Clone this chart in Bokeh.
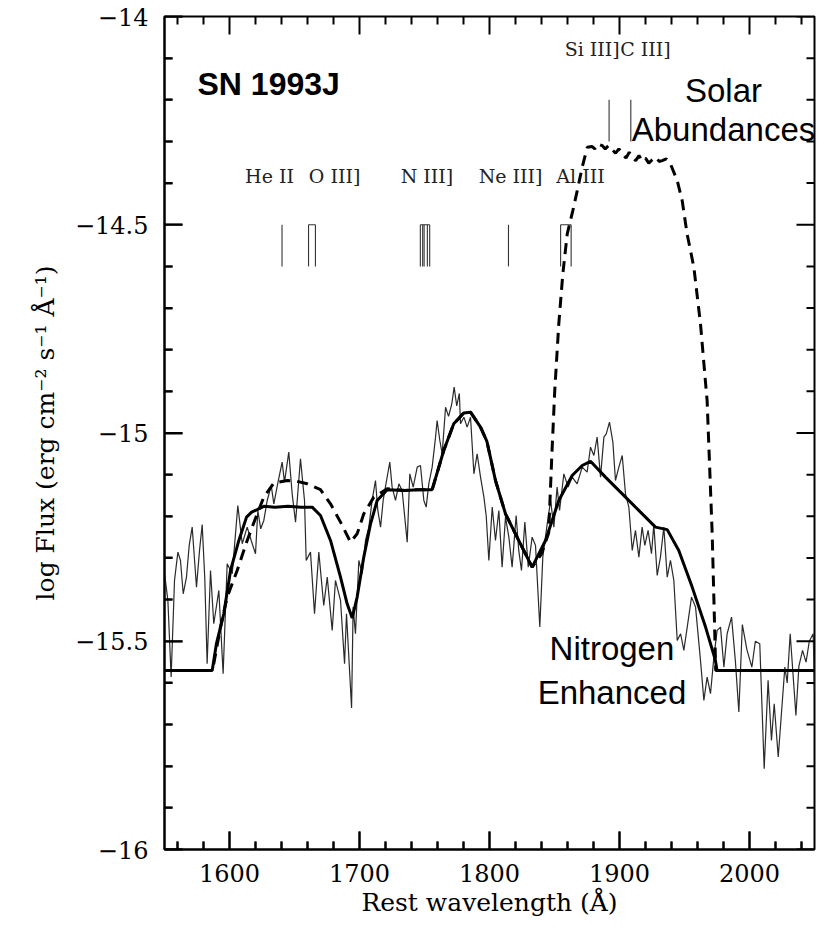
from bokeh.plotting import figure
from bokeh.models import Label, FixedTicker, Range1d
from bokeh.embed import file_html
from bokeh.resources import INLINE

# ---------------- data ----------------
obs_wave = [1550.0, 1552.6, 1555.1, 1557.7, 1560.3, 1562.3, 1564.4, 1566.9, 1569.0, 1571.3,
            1573.0, 1574.6, 1577.0, 1579.0, 1581.0, 1582.8, 1585.4, 1587.9, 1591.8, 1595.1,
            1598.2, 1602.1, 1606.4, 1609.8, 1613.6, 1616.7, 1620.0, 1621.8, 1624.0, 1626.4,
            1629.0, 1632.1, 1634.1, 1637.2, 1640.5, 1642.3, 1645.6, 1648.2, 1650.8, 1654.6,
            1657.7, 1659.0, 1662.3, 1665.4, 1668.7, 1672.5, 1675.2, 1679.0, 1681.5, 1685.4,
            1688.5, 1690.0, 1693.9, 1695.1, 1696.9, 1699.5, 1702.1, 1704.6, 1707.2, 1709.7,
            1712.3, 1714.1, 1716.2, 1718.2, 1720.8, 1723.3, 1725.1, 1727.7, 1730.3, 1732.8,
            1736.7, 1738.7, 1741.3, 1744.4, 1746.9, 1749.5, 1751.3, 1753.3, 1755.9, 1758.5,
            1759.7, 1761.8, 1763.6, 1766.2, 1768.5, 1771.0, 1772.8, 1774.8, 1776.8, 1777.7,
            1780.3, 1782.8, 1785.4, 1788.0, 1790.5, 1793.1, 1795.7, 1797.5, 1799.5, 1802.1,
            1804.6, 1807.2, 1809.7, 1812.3, 1814.9, 1817.4, 1820.5, 1822.5, 1824.6, 1827.2,
            1829.8, 1832.8, 1835.4, 1838.7, 1841.0, 1844.4, 1847.0, 1849.5, 1852.0, 1853.9,
            1857.2, 1860.5, 1863.6, 1867.4, 1871.3, 1875.1, 1877.7, 1880.3, 1882.8, 1885.4,
            1888.0, 1889.8, 1892.3, 1894.9, 1896.9, 1899.5, 1902.1, 1904.6, 1907.2, 1909.8,
            1912.3, 1914.9, 1917.4, 1919.5, 1922.0, 1924.6, 1926.4, 1929.0, 1931.5, 1934.1,
            1936.7, 1939.2, 1941.8, 1944.4, 1947.0, 1949.5, 1952.1, 1955.4, 1958.5, 1962.3,
            1964.9, 1967.4, 1970.0, 1972.6, 1975.1, 1977.7, 1980.3, 1982.8, 1986.2, 1989.2,
            1991.8, 1994.5, 1998.0, 2001.8, 2004.5, 2007.9, 2011.3, 2014.3, 2016.9, 2019.0,
            2022.1, 2027.2, 2029.0, 2031.3, 2035.7, 2038.0, 2040.8, 2043.5, 2046.0, 2049.0,
            2050.0]
obs_flux = [-15.337, -15.402, -15.586, -15.354, -15.286, -15.306, -15.386, -15.346, -15.270, -15.226,
            -15.300, -15.370, -15.280, -15.220, -15.350, -15.554, -15.330, -15.458, -15.378, -15.578,
            -15.314, -15.338, -15.174, -15.266, -15.226, -15.258, -15.290, -15.186, -15.230, -15.210,
            -15.162, -15.126, -15.170, -15.120, -15.070, -15.118, -15.046, -15.146, -15.214, -15.062,
            -15.162, -15.306, -15.286, -15.434, -15.286, -15.414, -15.346, -15.474, -15.354, -15.402,
            -15.554, -15.434, -15.660, -15.418, -15.482, -15.306, -15.338, -15.258, -15.226, -15.162,
            -15.114, -15.186, -15.226, -15.162, -15.114, -15.070, -15.130, -15.162, -15.122, -15.138,
            -15.262, -15.098, -15.130, -15.082, -15.078, -15.162, -15.178, -15.122, -15.082, -15.010,
            -14.970, -15.018, -15.050, -14.938, -14.960, -14.930, -14.890, -14.935, -14.905, -14.978,
            -14.962, -14.986, -14.962, -15.098, -15.050, -15.106, -15.154, -15.200, -15.306, -15.178,
            -15.258, -15.186, -15.322, -15.202, -15.250, -15.322, -15.198, -15.282, -15.330, -15.214,
            -15.322, -15.250, -15.270, -15.466, -15.298, -15.218, -15.162, -15.226, -15.130, -15.186,
            -15.098, -15.130, -15.106, -15.122, -15.082, -15.094, -15.034, -15.054, -15.010, -15.106,
            -15.010, -15.002, -14.974, -15.022, -15.114, -15.082, -15.054, -15.146, -15.178, -15.282,
            -15.234, -15.298, -15.226, -15.270, -15.234, -15.290, -15.220, -15.342, -15.298, -15.226,
            -15.346, -15.306, -15.354, -15.498, -15.482, -15.522, -15.466, -15.394, -15.418, -15.546,
            -15.642, -15.586, -15.626, -15.538, -15.474, -15.466, -15.562, -15.482, -15.442, -15.550,
            -15.670, -15.460, -15.520, -15.562, -15.500, -15.506, -15.806, -15.594, -15.738, -15.650,
            -15.778, -15.562, -15.600, -15.482, -15.678, -15.560, -15.522, -15.550, -15.500, -15.482,
            -15.620]

nitro_wave = [1550.0, 1586.7, 1590.0, 1595.6, 1600.8, 1607.2, 1613.1, 1617.0, 1621.3, 1626.4,
              1635.0, 1645.0, 1655.0, 1663.6, 1670.0, 1677.7, 1685.4, 1690.5, 1694.4, 1698.2,
              1703.3, 1708.5, 1713.6, 1721.3, 1735.0, 1745.0, 1755.9, 1764.8, 1772.5, 1780.2,
              1785.4, 1793.1, 1798.0, 1804.6, 1812.3, 1822.5, 1832.8, 1843.1, 1853.3, 1863.6,
              1871.3, 1877.7, 1889.2, 1904.6, 1920.0, 1927.7, 1936.7, 1945.6, 1955.9, 1966.2,
              1973.8, 1975.0, 2050.0]
nitro_flux = [-15.570, -15.570, -15.505, -15.434, -15.330, -15.258, -15.202, -15.190, -15.184, -15.176,
              -15.178, -15.176, -15.178, -15.178, -15.198, -15.258, -15.346, -15.410, -15.444, -15.394,
              -15.298, -15.218, -15.162, -15.136, -15.138, -15.136, -15.136, -15.042, -14.978, -14.952,
              -14.950, -14.986, -15.020, -15.114, -15.194, -15.258, -15.322, -15.258, -15.162, -15.102,
              -15.078, -15.068, -15.106, -15.154, -15.202, -15.226, -15.232, -15.282, -15.370, -15.466,
              -15.546, -15.570, -15.570]

solar_wave = [1550.0, 1586.7, 1587.9, 1593.1, 1598.2, 1605.9, 1613.6, 1621.3, 1626.4, 1634.1,
              1644.4, 1652.0, 1659.8, 1670.0, 1677.7, 1685.4, 1693.1, 1698.2, 1703.3, 1711.0,
              1721.3, 1735.0, 1745.0, 1755.9, 1764.8, 1772.5, 1780.2, 1785.4, 1793.1, 1798.0,
              1804.6, 1812.3, 1822.5, 1832.8, 1840.0, 1845.5, 1848.0, 1850.2, 1853.3, 1856.4,
              1859.8, 1864.1, 1867.5, 1871.3, 1875.2, 1878.8, 1881.0, 1883.5, 1886.7, 1889.0,
              1891.5, 1894.4, 1897.0, 1899.5, 1902.1, 1905.0, 1907.5, 1909.8, 1912.5, 1915.0,
              1917.4, 1920.0, 1922.5, 1925.2, 1928.0, 1930.5, 1932.8, 1936.0, 1939.2, 1944.4,
              1948.2, 1952.0, 1957.2, 1962.3, 1966.7, 1967.4, 1971.3, 1973.3, 1974.0, 2050.0]
solar_flux = [-15.570, -15.570, -15.554, -15.466, -15.394, -15.330, -15.258, -15.194, -15.154, -15.120,
              -15.114, -15.116, -15.122, -15.136, -15.170, -15.214, -15.262, -15.242, -15.194, -15.154,
              -15.134, -15.138, -15.136, -15.136, -15.042, -14.978, -14.952, -14.950, -14.986, -15.020,
              -15.114, -15.194, -15.258, -15.322, -15.290, -15.240, -15.050, -14.898, -14.738, -14.618,
              -14.522, -14.466, -14.418, -14.362, -14.314, -14.312, -14.318, -14.306, -14.310, -14.318,
              -14.310, -14.320, -14.328, -14.318, -14.328, -14.340, -14.326, -14.338, -14.346, -14.334,
              -14.346, -14.340, -14.352, -14.344, -14.338, -14.348, -14.346, -14.342, -14.354, -14.394,
              -14.442, -14.522, -14.602, -14.738, -14.898, -14.922, -15.242, -15.482, -15.570, -15.570]

# emission-line identifications (rest wavelengths, Angstrom)
low_line_groups = [[1640.4], [1660.8, 1666.1], [1746.8, 1748.6, 1749.7, 1752.2, 1754.0],
                   [1814.6], [1854.7, 1862.8]]
high_line_groups = [[1892.0], [1908.7]]
low_line_labels = ["He II", "O III]", "N III]", "Ne III]", "Al III"]
low_label_wave = [1630.8, 1680.8, 1751.9, 1816.2, 1870.0]
high_line_labels = ["Si III]", "C III]"]
high_label_wave = [1879.0, 1920.0]

x_tick_vals = [1600, 1700, 1800, 1900, 2000]
x_minor_vals = [v for v in range(1560, 2050, 20) if v % 100 != 0]
y_tick_vals = [-16.0, -15.5, -15.0, -14.5, -14.0]
y_tick_labels = ["\u221216", "\u221215.5", "\u221215", "\u221214.5", "\u221214"]
y_minor_vals = [round(-16 + 0.1 * i, 1) for i in range(21) if i % 5 != 0]

# ---------------- figure ----------------
SERIF = "DejaVu Serif"
SANS = "Liberation Sans"
W, H = 829, 928
BL, BR, BT, BB = 164, 15, 16, 79
X0, X1, Y0, Y1 = 1550, 2050, -16.0, -14.0

p = figure(width=W, height=H, x_range=Range1d(X0, X1), y_range=Range1d(Y0, Y1),
           output_backend="svg", toolbar_location=None,
           min_border_left=BL, min_border_right=BR, min_border_top=BT, min_border_bottom=BB)
p.grid.visible = False
p.outline_line_color = "black"
p.outline_line_width = 2


def style_axis(ax, ticks, minor):
    ax.ticker = FixedTicker(ticks=ticks, minor_ticks=minor)
    ax.major_tick_line_color = "black"
    ax.minor_tick_line_color = "black"
    ax.major_tick_line_width = 2
    ax.minor_tick_line_width = 2
    ax.major_tick_in = 18
    ax.minor_tick_in = 8
    ax.major_tick_out = 0
    ax.minor_tick_out = 0
    ax.axis_line_width = 2
    ax.axis_line_color = "black"
    ax.major_label_text_font = SERIF
    ax.major_label_text_font_size = "24px"
    ax.major_label_text_color = "black"
    ax.axis_label_text_font = SERIF
    ax.axis_label_text_font_size = "25px"
    ax.axis_label_text_font_style = "normal"
    ax.axis_label_text_color = "black"


xax = p.xaxis[0]
style_axis(xax, x_tick_vals, x_minor_vals)
xax.major_label_standoff = 14
xax.axis_label = "Rest wavelength (\u00c5)"
xax.axis_label_standoff = 3

yax = p.yaxis[0]
style_axis(yax, y_tick_vals, y_minor_vals)
yax.major_label_standoff = 16
yax.major_label_overrides = {v: s for v, s in zip(y_tick_vals, y_tick_labels)}
yax.axis_label = "log Flux (erg cm\u207b\u00b2 s\u207b\u00b9 \u00c5\u207b\u00b9)"
yax.axis_label_standoff = 12

# invisible placeholder renderer (keeps the first clip region away from real marks)
p.line([X0, X0], [Y0, Y0], line_alpha=0)

# observed spectrum (thin)
p.line(obs_wave, obs_flux, line_color="#2a2a2a", line_width=1.2)
# models
p.line(solar_wave, solar_flux, line_color="black", line_width=3, line_dash="11 7")
p.line(nitro_wave, nitro_flux, line_color="black", line_width=3)

# line identification marks
xs, ys = [], []
for grp in low_line_groups:
    for w in grp:
        xs.append([w, w]); ys.append([-14.6, -14.5])
    if len(grp) > 1:
        xs.append([min(grp), max(grp)]); ys.append([-14.5, -14.5])
for grp in high_line_groups:
    for w in grp:
        xs.append([w, w]); ys.append([-14.3, -14.2])
p.multi_line(xs, ys, line_color="#333333", line_width=1.1)

# inward tick marks on all four sides (drawn last)
dx_per_px = (X1 - X0) / (W - BL - BR)
dy_per_px = (Y1 - Y0) / (H - BT - BB)
MAJ, MIN = 18, 8
tick_xs, tick_ys = [], []
for v, L in [(v, MAJ) for v in x_tick_vals] + [(v, MIN) for v in x_minor_vals]:
    tick_xs.append([v, v]); tick_ys.append([Y1, Y1 - L * dy_per_px])
    tick_xs.append([v, v]); tick_ys.append([Y0, Y0 + L * dy_per_px])
for v, L in [(v, MAJ) for v in y_tick_vals] + [(v, MIN) for v in y_minor_vals]:
    tick_ys.append([v, v]); tick_xs.append([X1, X1 - L * dx_per_px])
    tick_ys.append([v, v]); tick_xs.append([X0, X0 + L * dx_per_px])
p.multi_line(tick_xs, tick_ys, line_color="black", line_width=2)

for txt, w in zip(low_line_labels, low_label_wave):
    p.add_layout(Label(x=w, y=-14.384, text=txt, text_font=SERIF, text_font_size="19px",
                       text_align="center", text_baseline="alphabetic", text_color="#222222"))
for txt, w in zip(high_line_labels, high_label_wave):
    p.add_layout(Label(x=w, y=-14.078, text=txt, text_font=SERIF, text_font_size="19px",
                       text_align="center", text_baseline="alphabetic", text_color="#222222"))

p.add_layout(Label(x=1575.4, y=-14.161, text="SN 1993J", text_font=SANS, text_font_size="32px",
                   text_font_style="bold", text_align="left", text_baseline="alphabetic",
                   text_color="black"))
for txt, w, yv in [("Solar", 1980.0, -14.178), ("Abundances", 1980.0, -14.272),
                   ("Nitrogen", 1894.2, -15.518), ("Enhanced", 1894.2, -15.624)]:
    p.add_layout(Label(x=w, y=yv, text=txt, text_font=SANS, text_font_size="33px",
                       text_align="center", text_baseline="alphabetic", text_color="black"))

open("out.html", "w").write(file_html(p, INLINE))
